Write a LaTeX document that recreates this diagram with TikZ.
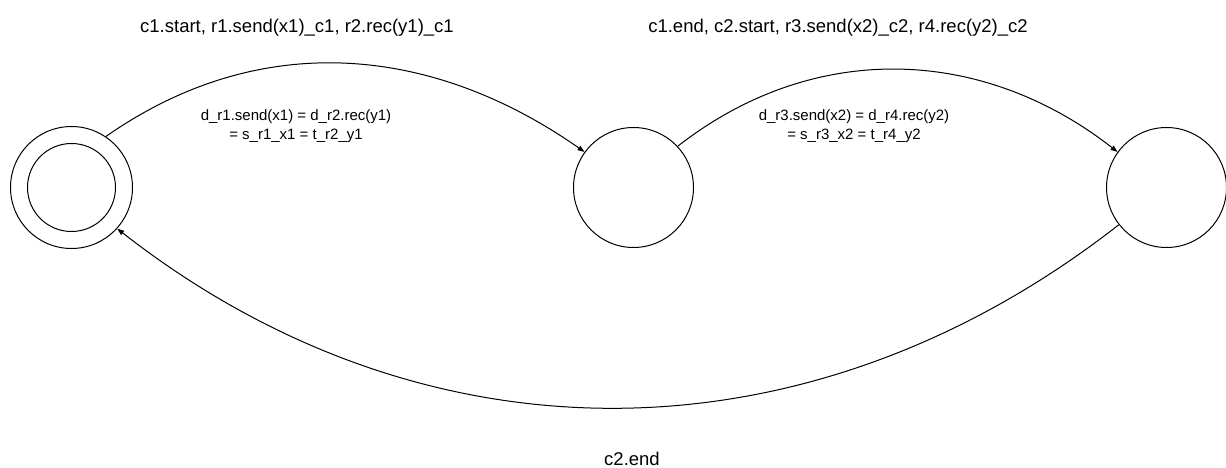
\documentclass[tikz,border=0pt]{standalone}
\usepackage{fontspec}
\setmainfont{Liberation Sans}
\usetikzlibrary{arrows.meta, positioning}
\tikzset{
	loc/.style={circle, draw=black, line width=1pt, minimum size=120pt, inner sep=0pt},
	innerloc/.style={circle, draw=black, line width=1pt, minimum size=88pt, inner sep=0pt},
	trans/.style={-{Triangle[length=7pt, width=5pt]}, line width=1pt, draw=black},
	biglbl/.style={font=\fontsize{18.5pt}{22pt}\selectfont, inner sep=0pt},
	smalllbl/.style={font=\fontsize{15pt}{19pt}\selectfont, align=center, inner sep=0pt},
}
\begin{document}
\begin{tikzpicture}[x=1pt, y=-1pt]
		\useasboundingbox (0,0) rectangle (1226,468);
		\node[loc, minimum size=122pt] (s0) at (71.5,187.5) {};
		\node[innerloc] (s0in) at (s0.center) {};
		\node[loc, right=440pt of s0] (s1) {};
		\node[loc, right=412pt of s1] (s2) {};
		% transitions
		\draw[trans] (s0.56) to[out=35, in=145] (s1.144);
		\draw[trans] (s1.43) to[out=38, in=142] (s2.144);
		\draw[trans] (s2.218) to[out=218, in=-38] (s0.318);
		% labels
		\node[biglbl] (l01) at (297,28) {c1.start, r1.send(x1)\_c1, r2.rec(y1)\_c1};
		\node[biglbl] (l12) at (838,28) {c1.end, c2.start, r3.send(x2)\_c2, r4.rec(y2)\_c2};
		\node[smalllbl] (g01) at (296,126) {d\_r1.send(x1) = d\_r2.rec(y1)\\= s\_r1\_x1 = t\_r2\_y1};
		\node[smalllbl] (g12) at (854,126) {d\_r3.send(x2) = d\_r4.rec(y2)\\= s\_r3\_x2 = t\_r4\_y2};
		\node[biglbl] (l20) at (632,459) {c2.end};
	\end{tikzpicture}
\end{document}
